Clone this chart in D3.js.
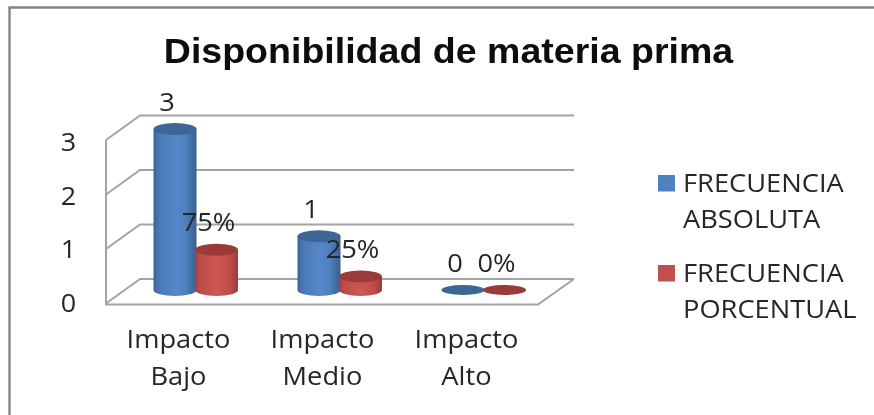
<!DOCTYPE html>
<html><head><meta charset="utf-8">
<script src="https://cdn.jsdelivr.net/npm/d3@7/dist/d3.min.js"></script>
<style>html,body{margin:0;padding:0;background:#fff}svg{display:block}</style>
</head><body><svg id="c" width="874" height="415"></svg>
<script>
const titleText = "Disponibilidad de materia prima";
const categories = [["Impacto","Bajo"],["Impacto","Medio"],["Impacto","Alto"]];
const absoluta = [3,1,0];
const porcentual = [0.75,0.25,0];
const yTicks = [0,1,2,3];
const legendLabels = [["FRECUENCIA","ABSOLUTA"],["FRECUENCIA","PORCENTUAL"]];
const seriesColors = [
 {stops:["#3a6396","#4a78b0","#5587c8","#5080bd","#395f8f"],top:"#3b6696",key:"#4f81bd"},
 {stops:["#a5413f","#bd4d4a","#d05552","#c44f4c","#9c3c3a"],top:"#9b3a38",key:"#c0504d"}];
const stopOffsets = [0,.12,.5,.75,1];

const svg = d3.select("#c");
const font = "'Open Sans','Noto Sans',sans-serif";
const defs = svg.append("defs");
defs.append("filter").attr("id","soft").append("feGaussianBlur").attr("stdDeviation",0.45);
seriesColors.forEach((c,i)=>{
  const g = defs.append("linearGradient").attr("id","cyl"+i);
  c.stops.forEach((s,j)=>g.append("stop").attr("offset",stopOffsets[j]).attr("stop-color",s));
});
const root = svg.append("g").attr("filter","url(#soft)");

function wide(sel,f){
  sel.each(function(){
    const n = this.getComputedTextLength();
    d3.select(this).attr("textLength",n*f).attr("lengthAdjust","spacingAndGlyphs");
  });
  return sel;
}

// frame
root.append("path").attr("d","M9.5,415V7.5H874").attr("fill","none").attr("stroke","#858585").attr("stroke-width",2.4);

// 3D box
const depthX = 34, depthY = -24.5;
const x0 = d3.scaleBand().domain(d3.range(3)).range([106,538]);
const y = d3.scaleLinear().domain([0,3]).range([303.5,140]);
const yLabel = d3.scaleLinear().domain([0,3]).range([311.5,151]);
const box = root.append("g").attr("fill","none").attr("stroke","#a3a3a3").attr("stroke-width",2);
yTicks.forEach(t=>{
  box.append("path").attr("d",`M106,${y(t)}L${106+depthX},${y(t)+depthY}H${538+depthX+2}`);
});
box.append("path").attr("d",`M106,${y(3)}V${y(0)+1}H538L${538+depthX+2},${y(0)+depthY}`);

// cylinders
const barY = d3.scaleLinear().domain([0,3]).range([290,129]);
const seriesOffset = [-20,21.5];
const barCx = (k,i)=>x0(k)+x0.bandwidth()/2+depthX/2+seriesOffset[i];
const rx = 21.5;
function cyl(g,cx,v,c,i){
  const ry = v>0?6:5;
  const yb = barY(0), yt = barY(v);
  if(v>0){
    g.append("path").attr("d",`M${cx-rx},${yt}V${yb}A${rx},${ry} 0 0 0 ${cx+rx},${yb}V${yt}Z`).attr("fill",`url(#cyl${i})`);
  }
  g.append("ellipse").attr("cx",cx).attr("cy",yt).attr("rx",rx).attr("ry",ry).attr("fill",c.top);
}
const bars = root.append("g");
[absoluta,porcentual].forEach((vals,i)=>{
  vals.forEach((v,k)=>cyl(bars,barCx(k,i),v,seriesColors[i],i));
});

// axis labels
const txt = root.append("g").attr("font-family",font).attr("fill","#262626");
yTicks.forEach(t=>{
  txt.append("text").attr("x",68.5).attr("y",yLabel(t)).attr("text-anchor","middle").attr("font-size",25).text(t).call(wide,1.08);
});
categories.forEach((c,i)=>{
  const cx = x0(i)+x0.bandwidth()/2+0.5;
  c.forEach((l,j)=>txt.append("text").attr("x",cx).attr("y",348+j*37).attr("text-anchor","middle").attr("font-size",25).text(l).call(wide,1.09));
});

// data labels
[absoluta,porcentual].forEach((vals,i)=>{
  vals.forEach((v,k)=>{
    txt.append("text").attr("x",barCx(k,i)-8).attr("y",barY(v)-18.5).attr("text-anchor","middle").attr("font-size",25)
      .text(i===0?v:d3.format(".0%")(v)).call(wide,1.09);
  });
});

// title
root.append("text").attr("x",448.5).attr("y",63).attr("text-anchor","middle")
  .attr("font-family","'Liberation Sans',Arial,sans-serif").attr("font-weight","bold").attr("font-size",34.5).attr("fill","#0a0a0a").text(titleText).call(wide,1.088);

// legend
legendLabels.forEach((l,i)=>{
  const top = 175+i*90;
  root.append("rect").attr("x",658).attr("y",top).attr("width",17).attr("height",16.5).attr("fill",seriesColors[i].key);
  l.forEach((s,j)=>txt.append("text").attr("x",683).attr("y",top+17+j*35.5).attr("font-size",25).text(s).call(wide,1.09));
});
</script></body></html>
